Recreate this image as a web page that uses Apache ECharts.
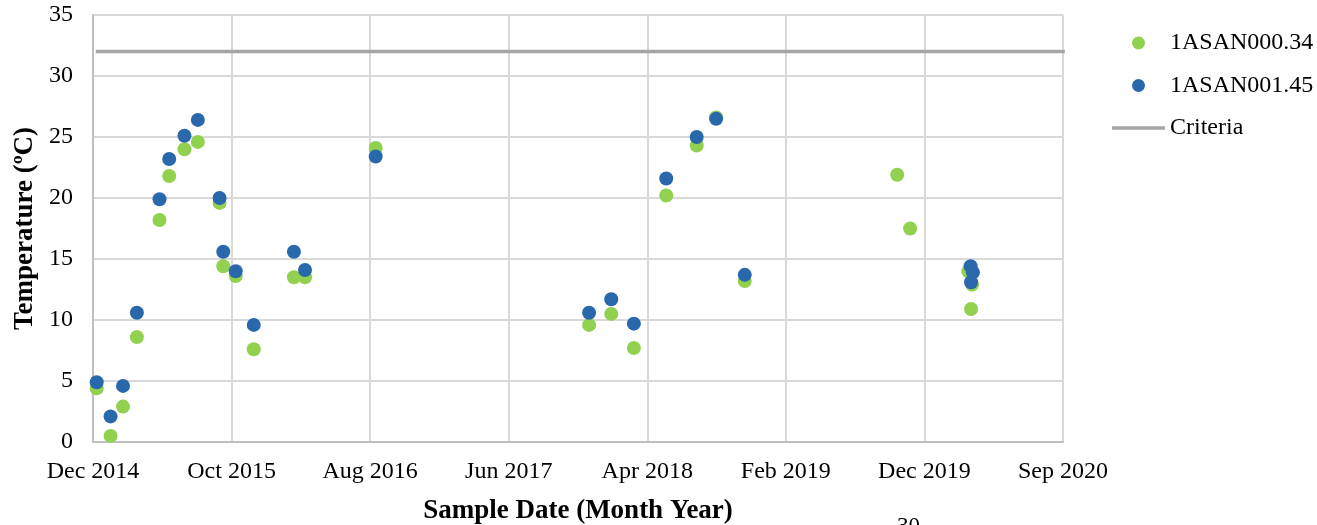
<!DOCTYPE html>
<html>
<head>
<meta charset="utf-8">
<script src="https://cdn.jsdelivr.net/npm/echarts@6/dist/echarts.min.js"></script>
<style>
html,body{margin:0;padding:0;background:#fff;}
#chart{width:1317px;height:525px;}
</style>
</head>
<body>
<div id="chart"></div>
<script>
// ---- data ----
const axisStartDate = '2014-12-29';     // x axis origin (labels every 300 days)
const tickIntervalDays = 300;
const tickCount = 7;
const yTicks = [0, 5, 10, 15, 20, 25, 30, 35];

const seriesNames = ['1ASAN000.34', '1ASAN001.45', 'Criteria'];

const greenDates = ['2015-01-06','2015-02-05','2015-03-04','2015-04-03','2015-05-22','2015-06-12','2015-07-15','2015-08-13','2015-09-29','2015-10-07','2015-11-03','2015-12-12','2016-03-08','2016-04-01','2016-09-01','2017-12-07','2018-01-24','2018-03-14','2018-05-23','2018-07-28','2018-09-08','2018-11-09','2019-10-05','2019-11-02','2020-03-07','2020-03-13','2020-03-15'];
const greenTemps = [4.4,0.5,2.9,8.6,18.2,21.8,24.0,24.6,19.6,14.4,13.6,7.6,13.5,13.5,24.1,9.6,10.5,7.7,20.2,24.3,26.6,13.2,21.9,17.5,14.0,10.9,12.9];

const blueDates = ['2015-01-06','2015-02-05','2015-03-04','2015-04-03','2015-05-22','2015-06-12','2015-07-15','2015-08-13','2015-09-29','2015-10-07','2015-11-03','2015-12-12','2016-03-08','2016-04-01','2016-09-01','2017-12-07','2018-01-24','2018-03-14','2018-05-23','2018-07-28','2018-09-08','2018-11-09','2020-03-12','2020-03-13','2020-03-17'];
const blueTemps = [4.9,2.1,4.6,10.6,19.9,23.2,25.1,26.4,20.0,15.6,14.0,9.6,15.6,14.1,23.4,10.6,11.7,9.7,21.6,25.0,26.5,13.7,14.4,13.1,13.9];

const criteriaDates = ['2015-01-04','2020-10-02'];
const criteriaTemps = [32, 32];

const pageNumber = '30';

// ---- helpers ----
const DAY = 86400000;
function utc(s){ const p = s.split('-').map(Number); return Date.UTC(p[0], p[1]-1, p[2]); }
const base = utc(axisStartDate);
function dayOffset(s){ return (utc(s) - base) / DAY; }
const MONTHS = ['Jan','Feb','Mar','Apr','May','Jun','Jul','Aug','Sep','Oct','Nov','Dec'];
function fmt(v){ const d = new Date(base + v*DAY); return MONTHS[d.getUTCMonth()] + ' ' + d.getUTCFullYear(); }
function pairs(dates, vals){ return dates.map((d,i)=>[dayOffset(d), vals[i]]); }

const FONT = "'Liberation Serif', 'Times New Roman', serif";
const chart = echarts.init(document.getElementById('chart'), null, {renderer:'canvas'});
chart.setOption({
  animation: false,
  backgroundColor: '#fff',
  textStyle: {fontFamily: FONT},
  grid: {left: 93, right: 254, top: 15, bottom: 83, containLabel: false, outerBoundsMode: 'none'},
  legend: {
    orient: 'vertical', left: 1112, top: 31, padding: 0,
    itemWidth: 53, itemHeight: 13, itemGap: 18.5,
    textStyle: {fontFamily: FONT, fontSize: 24, color: '#000'},
    data: [
      {name: seriesNames[0], icon: 'circle'},
      {name: seriesNames[1], icon: 'circle'},
      {name: seriesNames[2], icon: 'path://M0,0 L53,0 L53,3.5 L0,3.5 Z'}
    ]
  },
  xAxis: {
    type: 'value', min: 0, max: tickIntervalDays * tickCount, interval: tickIntervalDays,
    name: 'Sample Date (Month Year)', nameLocation: 'middle', nameGap: 56,
    nameTextStyle: {fontFamily: FONT, fontSize: 27, fontWeight: 'bold', color: '#000'},
    axisLine: {show: true, lineStyle: {color: '#bfbfbf', width: 2}},
    axisTick: {show: false},
    axisLabel: {formatter: fmt, fontFamily: FONT, fontSize: 24, color: '#000', margin: 18, showMinLabel: true, showMaxLabel: true},
    splitLine: {show: true, lineStyle: {color: '#d9d9d9', width: 2}}
  },
  yAxis: {
    type: 'value', min: yTicks[0], max: yTicks[yTicks.length-1], interval: yTicks[1]-yTicks[0],
    name: 'Temperature (ºC)', nameLocation: 'middle', nameGap: 52, nameRotate: 90,
    nameTextStyle: {fontFamily: FONT, fontSize: 27, fontWeight: 'bold', color: '#000'},
    axisLine: {show: true, lineStyle: {color: '#bfbfbf', width: 2}},
    axisTick: {show: false},
    axisLabel: {fontFamily: FONT, fontSize: 24, color: '#000', margin: 20},
    splitLine: {show: true, lineStyle: {color: '#d9d9d9', width: 2}}
  },
  series: [
    {
      name: seriesNames[2], type: 'line', data: pairs(criteriaDates, criteriaTemps),
      symbol: 'none', clip: false, z: 1,
      lineStyle: {color: '#a6a6a6', width: 3.5},
      itemStyle: {color: '#a6a6a6'}
    },
    {
      name: seriesNames[0], type: 'scatter', data: pairs(greenDates, greenTemps),
      symbol: 'circle', symbolSize: 14, z: 2,
      itemStyle: {color: '#92d050', opacity: 1}
    },
    {
      name: seriesNames[1], type: 'scatter', data: pairs(blueDates, blueTemps),
      symbol: 'circle', symbolSize: 14, z: 3,
      itemStyle: {color: '#2968aa', opacity: 1}
    }
  ],
  graphic: [
    {type: 'text', left: 897, top: 515, style: {text: pageNumber, font: "23px " + FONT, fill: '#000'}}
  ]
});
</script>
</body>
</html>
